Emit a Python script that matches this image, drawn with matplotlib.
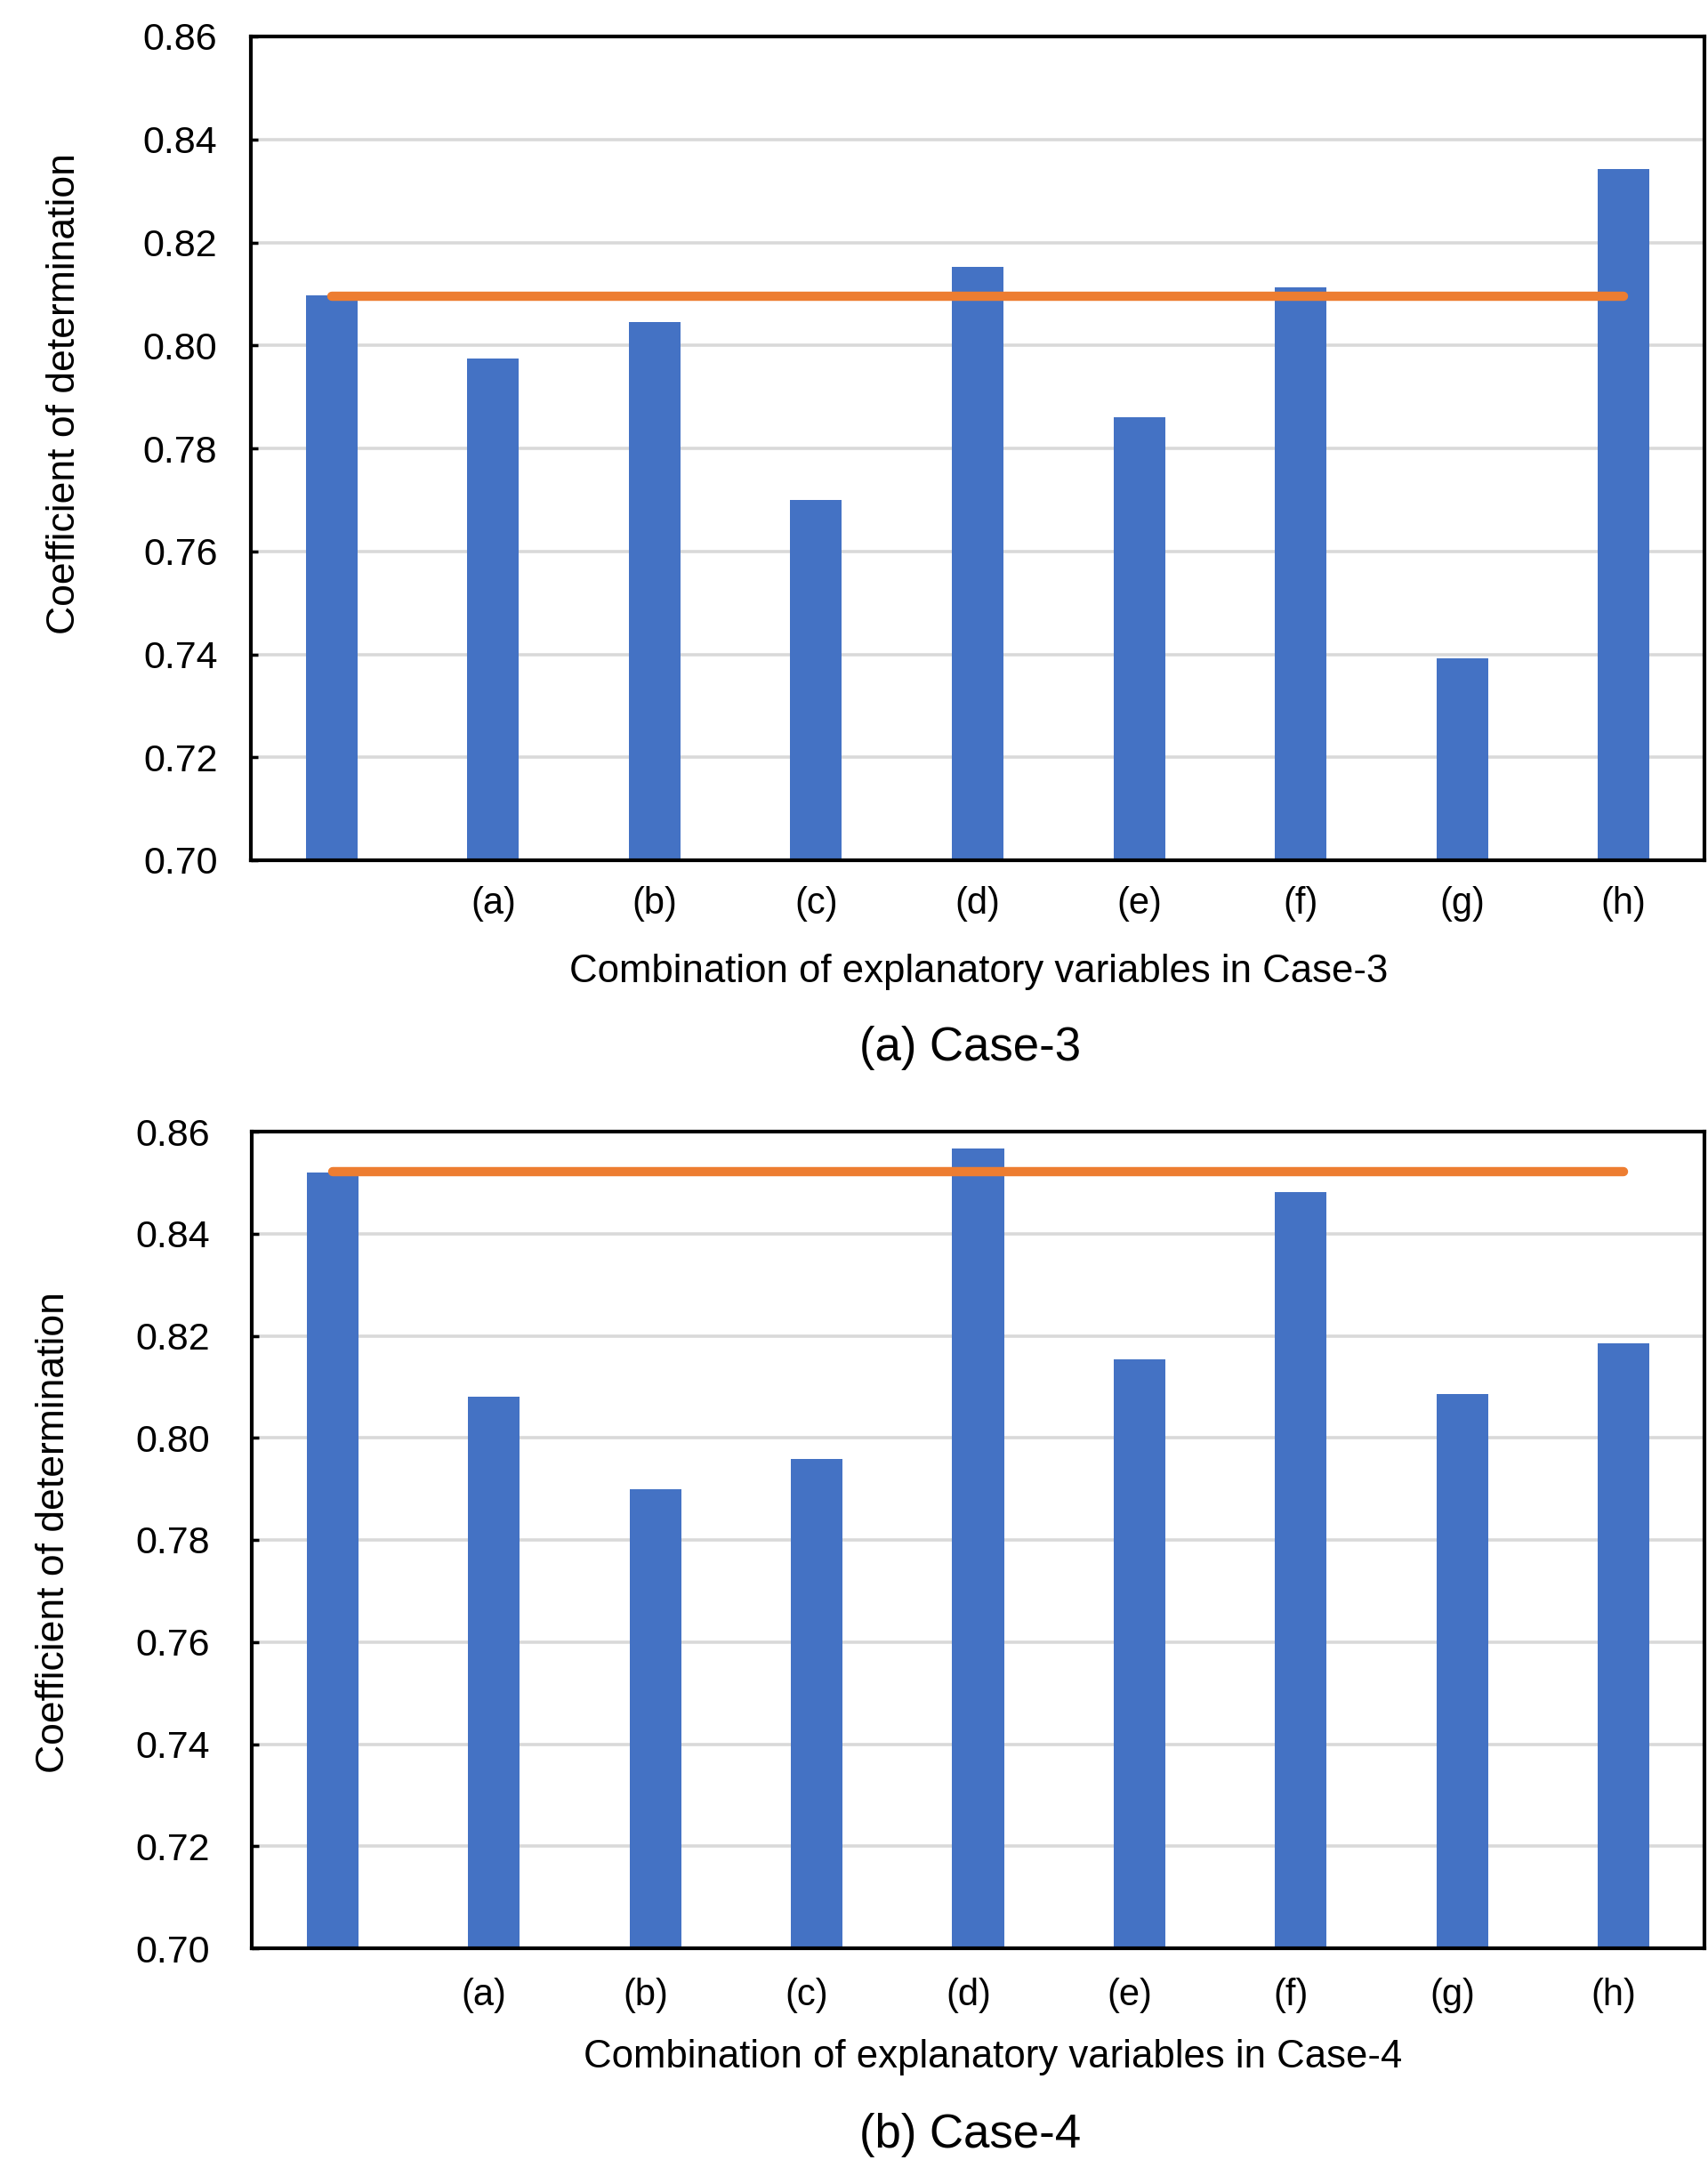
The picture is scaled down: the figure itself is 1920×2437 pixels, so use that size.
import numpy as np
import matplotlib
matplotlib.use('Agg')
import matplotlib.pyplot as plt
import matplotlib.transforms as mtransforms

plt.rcParams['font.family'] = ['Liberation Sans', 'DejaVu Sans']

labels = ['', '(a)', '(b)', '(c)', '(d)', '(e)', '(f)', '(g)', '(h)']
case3_r2 = [0.8097, 0.7975, 0.8046, 0.7700, 0.8152, 0.7861, 0.8112, 0.7393, 0.8342]
case4_r2 = [0.8519, 0.8080, 0.7899, 0.7958, 0.8567, 0.8153, 0.8482, 0.8086, 0.8186]
case3_ref = 0.8096
case4_ref = 0.8522
yticks = [0.70, 0.72, 0.74, 0.76, 0.78, 0.80, 0.82, 0.84, 0.86]

bar_color = '#4472C4'
line_color = '#ED7D31'
grid_color = '#D9D9D9'

fig = plt.figure(figsize=(19.2, 24.37), dpi=100)


def draw_panel(ax, values, ref, xlabel, ylabel_y, ylabel_x, ypad, xpad, xlabel_xy, xshift=0):
    x = np.arange(len(labels))
    ax.bar(x, values, width=0.32, color=bar_color, zorder=2)
    ax.plot(x, [ref] * len(labels), color=line_color, lw=7.5,
            solid_capstyle='round', zorder=3)
    ax.set_xlim(-0.5, len(labels) - 0.5)
    ax.set_ylim(0.70, 0.86)
    ax.set_yticks(yticks)
    ax.set_yticklabels([f'{v:.2f}' for v in yticks])
    ax.set_xticks(x)
    ax.set_xticklabels(labels)
    ax.yaxis.grid(True, color=grid_color, lw=2.6, zorder=0)
    ax.set_axisbelow(True)
    for s in ax.spines.values():
        s.set_linewidth(3)
        s.set_color('black')
    ax.tick_params(axis='y', direction='in', length=6, width=2.5,
                   labelsize=31, pad=ypad)
    ax.tick_params(axis='x', length=0, labelsize=30, pad=xpad)
    if xshift:
        off = mtransforms.ScaledTranslation(xshift / 100, 0, fig.dpi_scale_trans)
        for lbl in ax.get_xticklabels():
            lbl.set_transform(lbl.get_transform() + off)
    ax.set_ylabel('Coefficient of determination', fontsize=32, va='center')
    ax.yaxis.set_label_coords(ylabel_x, ylabel_y)
    ax.set_xlabel(xlabel, fontsize=31.5, va='center')
    ax.xaxis.set_label_coords(*xlabel_xy)


ax1 = fig.add_axes([282 / 1920, 1 - 967 / 2437, 1634 / 1920, 926 / 2437])
draw_panel(ax1, case3_r2, case3_ref,
           'Combination of explanatory variables in Case-3',
           0.566, -0.128, 27, 21, (0.501, -0.136))

ax2 = fig.add_axes([283 / 1920, 1 - 2190 / 2437, 1633 / 1920, 918 / 2437])
draw_panel(ax2, case4_r2, case4_ref,
           'Combination of explanatory variables in Case-4',
           0.509, -0.136, 34, 24, (0.510, -0.133), xshift=-11)

fig.text(1091 / 1920, 1 - 1178 / 2437, '(a) Case-3', ha='center', va='center', fontsize=38)
fig.text(1091 / 1920, 1 - 2400 / 2437, '(b) Case-4', ha='center', va='center', fontsize=38)

fig.savefig('out.png', dpi=100)
